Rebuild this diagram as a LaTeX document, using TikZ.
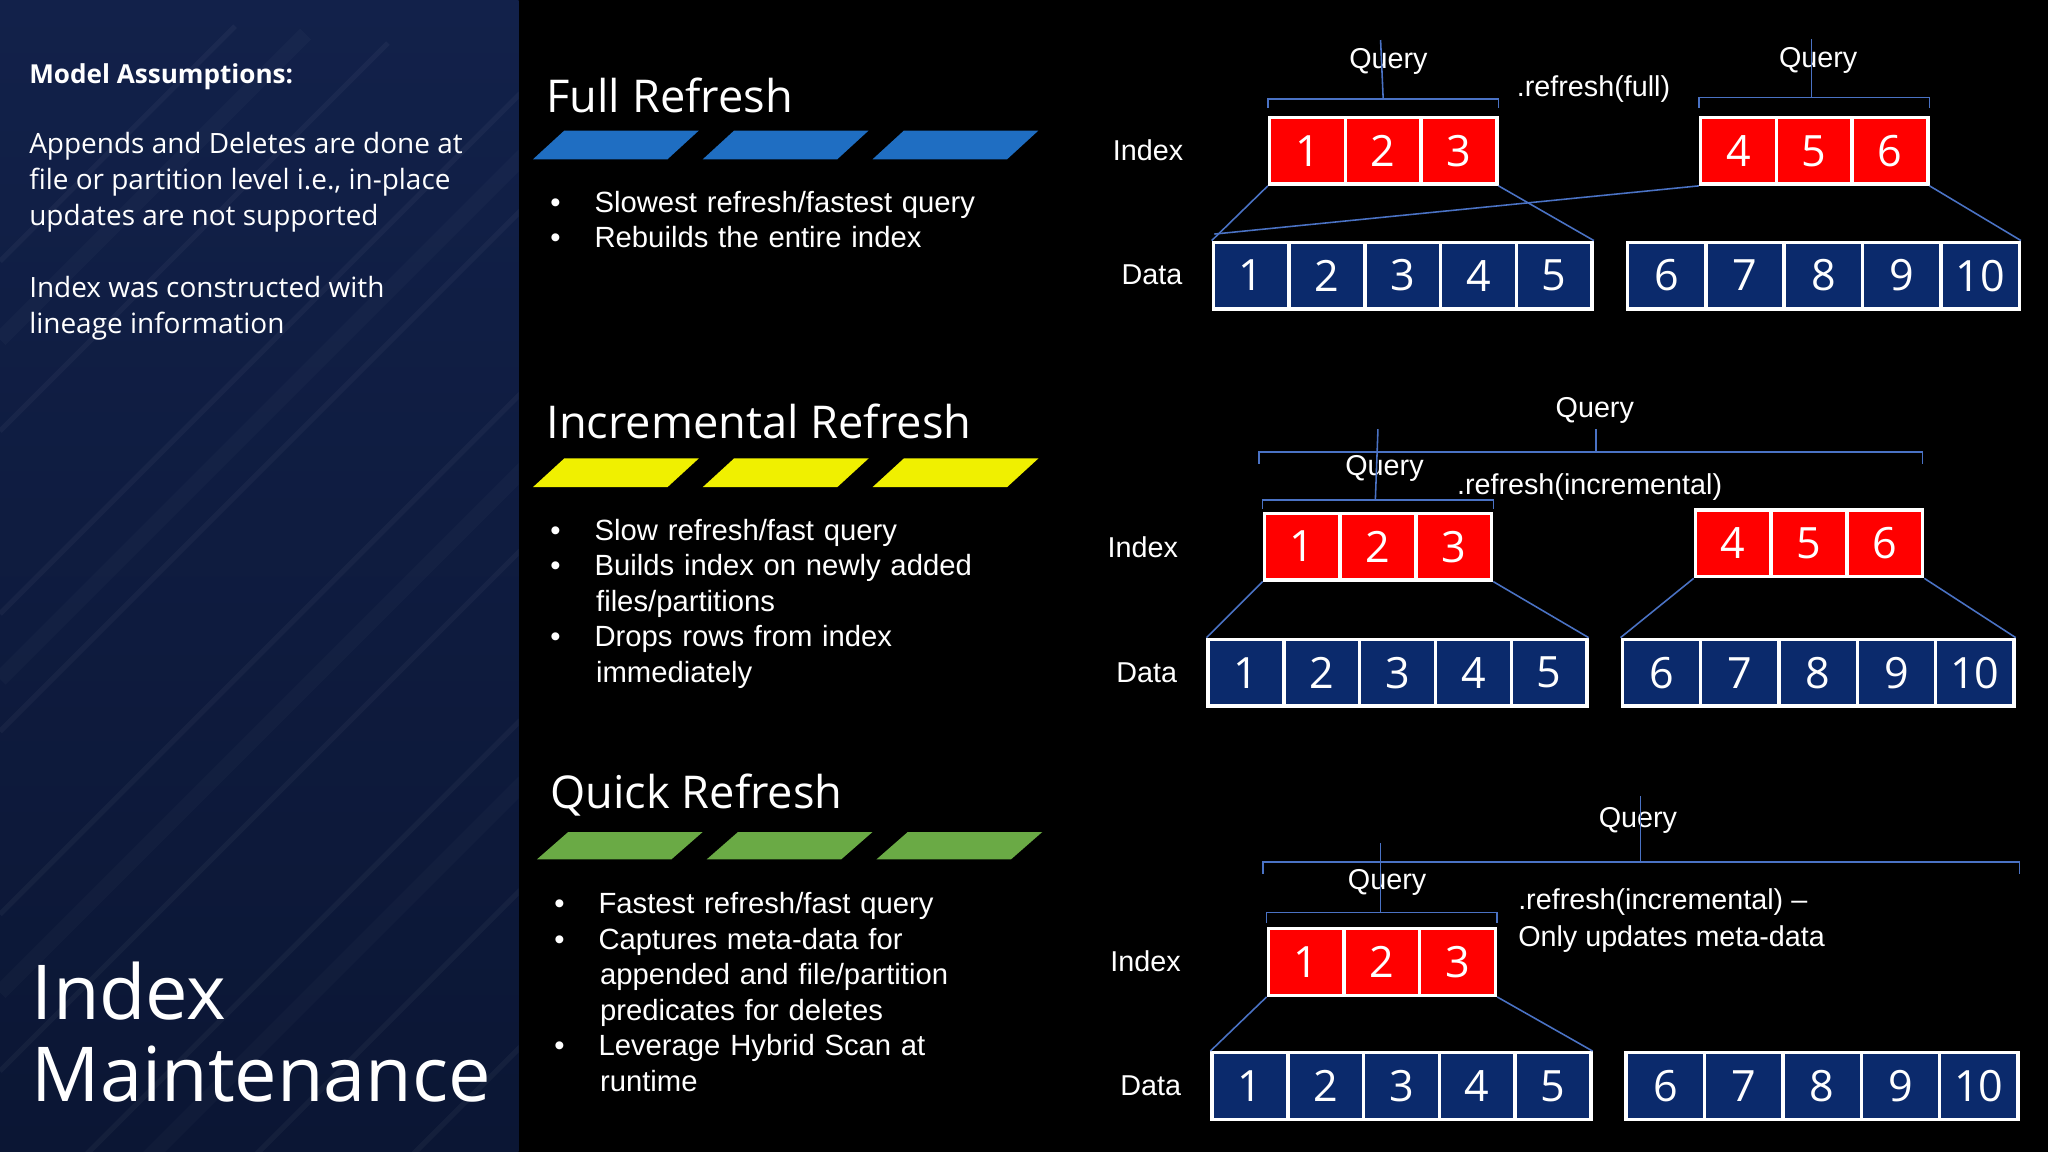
\documentclass[tikz,border=0pt]{standalone}
\usepackage{fontspec}
\setmainfont{Liberation Sans}
\newfontfamily\osans{Open Sans}
\usetikzlibrary{calc}
\definecolor{paneltop}{HTML}{12214A}
\definecolor{panelbot}{HTML}{0B1634}
\definecolor{cellblue}{HTML}{0B2A6C}
\definecolor{conn}{HTML}{4A72C4}
\definecolor{pblue}{HTML}{1F6EC2}
\definecolor{pyellow}{HTML}{F0F000}
\definecolor{pgreen}{HTML}{6AAA45}
\tikzset{
 redcell/.style={draw=white,line width=1.3pt,fill=red,minimum width=29pt,minimum height=25.5pt,inner sep=0pt,text=white,font=\osans\fontsize{16.5}{16.5}\selectfont},
 bluecell/.style={redcell,fill=cellblue},
 lbl/.style={text=white,font=\fontsize{11}{13}\selectfont,inner sep=0pt},
 conline/.style={draw=conn,line width=0.6pt},
 bul/.style={text=white,font=\fontsize{11.2}{13.6}\selectfont,anchor=north west,inner sep=0pt,align=left,text width=180pt},
 ttl/.style={text=white,font=\osans\fontsize{17.3}{20}\selectfont,anchor=west,inner sep=0pt},
}
\begin{document}
\begin{tikzpicture}[x=0.5pt,y=-0.5pt]
\useasboundingbox (0,0) rectangle (1568,882);
\fill[black] (0,0) rectangle (1568,882);
\shade[top color=paneltop,bottom color=panelbot] (0,0) rectangle (397,882);
\begin{scope}
\clip (0,0) rectangle (397,882);
\foreach \s in {200,330,470,560,700,820,950,1080,1200}
  \draw[white,opacity=0.04,line width=2pt] (0,\s) -- (\s*0.9,\s-\s*0.9);
\foreach \s in {260,520,760,1000}
  \draw[white,opacity=0.025,line width=6pt] (0,\s) -- (\s*0.9,\s-\s*0.9);
\end{scope}
% left panel text
\node[text=white,anchor=west,inner sep=0pt,font=\osans\bfseries\fontsize{10}{12}\selectfont] (ma) at (22,59) {Model Assumptions:};
\node[text=white,anchor=north west,inner sep=0pt,align=left,font=\osans\fontsize{10.7}{13.7}\selectfont] (ad) at (22,101) {Appends and Deletes are done at\\file or partition level i.e., in-place\\updates are not supported};
\node[text=white,anchor=north west,inner sep=0pt,align=left,font=\osans\fontsize{10.7}{13.7}\selectfont] (ic) at (22,211) {Index was constructed with\\lineage information};
\node[text=white,anchor=north west,inner sep=0pt,align=left,font=\osans\fontsize{29}{31.5}\selectfont] (im) at (24,736) {Index\\Maintenance};
% section titles
\node[ttl] (t1) at (418,73) {Full Refresh};
\node[ttl] (t2) at (418,323) {Incremental Refresh};
\node[ttl] (t3) at (421,609) {Quick Refresh};
% parallelograms
\foreach \x in {408,538,668} \fill[pblue] (\x,122) -- (\x+24,100) -- (\x+127,100) -- (\x+103,122) -- cycle;
\foreach \x in {408,538,668} \fill[pyellow] (\x,373) -- (\x+24,351) -- (\x+127,351) -- (\x+103,373) -- cycle;
\foreach \x in {411,541,671} \fill[pgreen] (\x,658) -- (\x+24,637) -- (\x+127,637) -- (\x+103,658) -- cycle;
% bullets
\node[bul] (b1) at (421,146) {\textbullet\hspace{13pt}Slowest refresh/fastest query\\\textbullet\hspace{13pt}Rebuilds the entire index};
\node[bul] (b2) at (421,397) {\textbullet\hspace{13pt}Slow refresh/fast query\\\textbullet\hspace{13pt}Builds index on newly added\\\hspace{17.5pt}files/partitions\\\textbullet\hspace{13pt}Drops rows from index\\\hspace{17.5pt}immediately};
\node[bul] (b3) at (424,683) {\textbullet\hspace{13pt}Fastest refresh/fast query\\\textbullet\hspace{13pt}Captures meta-data for\\\hspace{17.5pt}appended and file/partition\\\hspace{17.5pt}predicates for deletes\\\textbullet\hspace{13pt}Leverage Hybrid Scan at\\\hspace{17.5pt}runtime};
% ===== Row 1 =====
\node[lbl] (i1) at (879,115) {Index};
\node[lbl] (d1) at (882,210) {Data};
\foreach \i in {1,2,3} \node[redcell] (r1a\i) at ({972+58*(\i-0.5)},115.5) {\i};
\foreach \i/\n in {1/4,2/5,3/6} \node[redcell] (r1b\i) at ({1302+58*(\i-0.5)},115.5) {\n};
\foreach \i in {1,...,5} \node[bluecell] (d1a\i) at ({929+58*(\i-0.5)},211) {\i};
\foreach \i/\n in {1/6,2/7,3/8,4/9,5/10} \node[bluecell] (d1b\i) at ({1246+60*(\i-0.5)},211) [minimum width=30pt] {\n};
\node[lbl] (q1a) at (1063,47) {Query};
\node[lbl] (q1b) at (1392,46) {Query};
\node[lbl] (rf1) at (1220,68) {.refresh(full)};
\draw[conline] ($(r1a1.north west)+(0,-6)$) -- ($(r1a1.north west)+(0,-13)$) -- ($(r1a3.north east)+(0,-13)$) -- ($(r1a3.north east)+(0,-6)$);
\draw[conline] ($(r1a2.north)+(0,-13)$) -- ($(q1a.north)+(-6,-6)$);
\draw[conline] ($(r1b1.north west)+(0,-6)$) -- ($(r1b1.north west)+(0,-14)$) -- ($(r1b3.north east)+(0,-14)$) -- ($(r1b3.north east)+(0,-6)$);
\draw[conline] ($(r1b2.north)+(-2,-14)$) -- ($(q1b.north)+(-5,-6)$);
\draw[conline] (r1a1.south west) -- (d1a1.north west);
\draw[conline] (r1a3.south east) -- (d1a5.north east);
\draw[conline] (r1b1.south west) -- ($(d1a1.north west)+(2,-5)$);
\draw[conline] (r1b3.south east) -- (d1b5.north east);
% ===== Row 2 =====
\node[lbl] (i2) at (875,419) {Index};
\node[lbl] (d2) at (878,515) {Data};
\foreach \i in {1,2,3} \node[redcell] (r2a\i) at ({968+58*(\i-0.5)},418.5) {\i};
\foreach \i/\n in {1/4,2/5,3/6} \node[redcell] (r2b\i) at ({1298+58*(\i-0.5)},416) {\n};
\foreach \i in {1,...,5} \node[bluecell] (d2a\i) at ({925+58*(\i-0.5)},515) {\i};
\foreach \i/\n in {1/6,2/7,3/8,4/9,5/10} \node[bluecell] (d2b\i) at ({1242+60*(\i-0.5)},515) [minimum width=30pt] {\n};
\node[lbl] (q2o) at (1221,314) {Query};
\node[lbl] (q2a) at (1060,359) {Query};
\node[lbl] (rf2) at (1217,373) {.refresh(incremental)};
\draw[conline] (964,355) -- (964,346) -- (1472,346) -- (1472,355);
\draw[conline] (1222,346) -- ($(q2o.south)+(1,4)$);
\draw[conline] ($(r2a1.north west)+(0,-2)$) -- ($(r2a1.north west)+(0,-9)$) -- ($(r2a3.north east)+(0,-9)$) -- ($(r2a3.north east)+(0,-2)$);
\draw[conline] ($(r2a2.north)+(-2,-9)$) -- ($(q2a.north)+(-5,-20)$);
\draw[conline] (r2a1.south west) -- (d2a1.north west);
\draw[conline] (r2a3.south east) -- (d2a5.north east);
\draw[conline] (r2b1.south west) -- (d2b1.north west);
\draw[conline] (r2b3.south east) -- (d2b5.north east);
% ===== Row 3 =====
\node[lbl] (i3) at (877,736) {Index};
\node[lbl] (d3) at (881,831) {Data};
\foreach \i in {1,2,3} \node[redcell] (r3a\i) at ({971+58*(\i-0.5)},736.5) {\i};
\foreach \i in {1,...,5} \node[bluecell] (d3a\i) at ({928+58*(\i-0.5)},831.5) {\i};
\foreach \i/\n in {1/6,2/7,3/8,4/9,5/10} \node[bluecell] (d3b\i) at ({1245+60*(\i-0.5)},831.5) [minimum width=30pt] {\n};
\node[lbl] (q3o) at (1254,628) {Query};
\node[lbl] (q3a) at (1062,676) {Query};
\node[lbl,anchor=north west,align=left,font=\fontsize{11}{14}\selectfont] (rf3) at (1162,680) {.refresh(incremental) --\\Only updates meta-data};
\draw[conline] (967,669) -- (967,660) -- (1546,660) -- (1546,669);
\draw[conline] (1256,660) -- ($(q3o.north)+(2,-8)$);
\draw[conline] ($(r3a1.north west)+(0,-3)$) -- ($(r3a1.north west)+(0,-11)$) -- ($(r3a3.north east)+(0,-11)$) -- ($(r3a3.north east)+(0,-3)$);
\draw[conline] ($(r3a2.north)+(-1,-11)$) -- ($(q3a.north)+(-5,-20)$);
\draw[conline] (r3a1.south west) -- (d3a1.north west);
\draw[conline] (r3a3.south east) -- (d3a5.north east);
\end{tikzpicture}
\end{document}
